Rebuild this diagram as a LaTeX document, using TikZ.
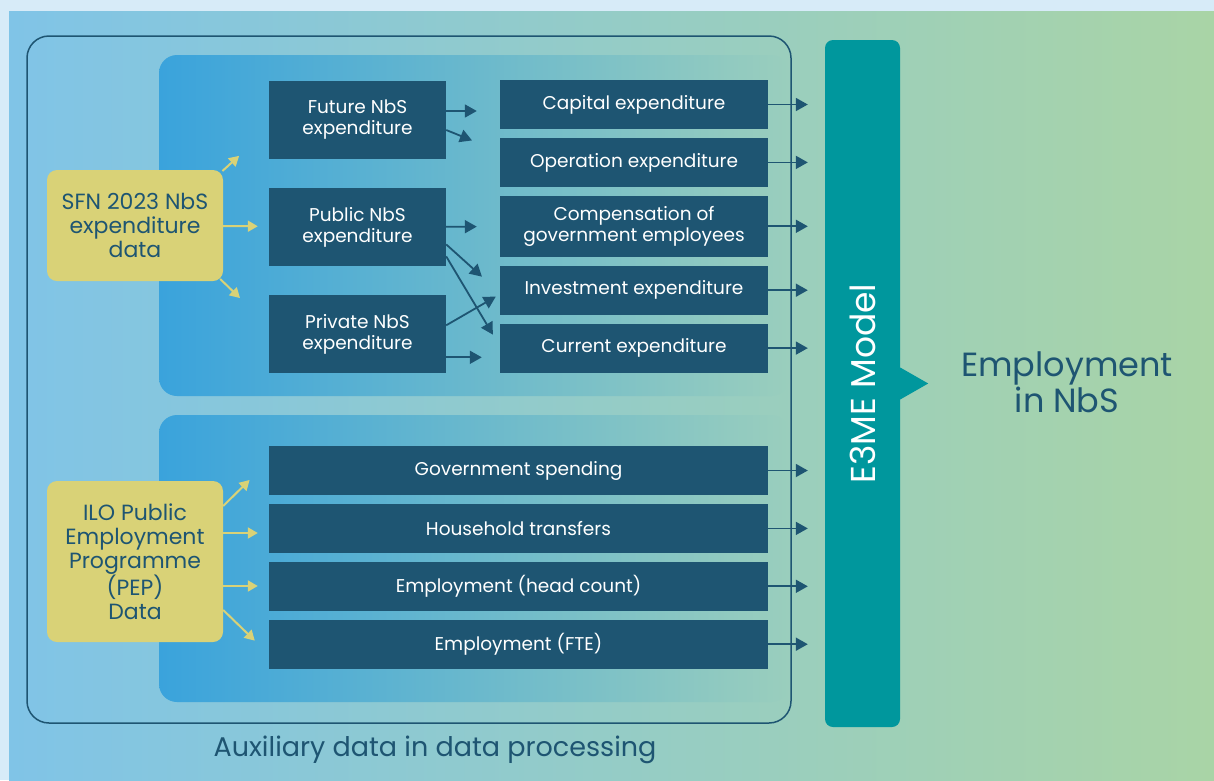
\documentclass[tikz,border=0pt]{standalone}
\usepackage{fontspec}
\setmainfont{Poppins}
\usepackage{tikz}
\usetikzlibrary{arrows.meta, positioning, shapes}

\definecolor{navy}{HTML}{1E5572}
\definecolor{sand}{HTML}{D9D277}
\definecolor{modelteal}{HTML}{00979D}
\definecolor{paper}{HTML}{D7EBF8}
\definecolor{bgleft}{HTML}{80C4E7}
\definecolor{bgright}{HTML}{A9D4A6}
\definecolor{panelleft}{HTML}{3AA3DC}
\definecolor{panelright}{HTML}{9ACEBD}

\begin{document}
\begin{tikzpicture}[x=1pt, y=-1pt, node distance=8.5pt,
    dbox/.style={rectangle, fill=navy, text=white, align=center, inner sep=0pt,
        font=\fontsize{18.5}{21}\selectfont},
    smallbox/.style={dbox, minimum width=177pt, minimum height=78pt},
    widebox/.style={dbox, minimum width=268pt, minimum height=49pt},
    longbox/.style={dbox, minimum width=499pt, minimum height=49pt},
    ybox/.style={rectangle, fill=sand, text=navy, rounded corners=10pt, align=center,
        inner sep=0pt, minimum width=176pt, font=\fontsize{22}{24}\selectfont},
    yarr/.style={draw=sand, line width=2pt, -{Triangle[length=10pt, width=11pt]}},
    narr/.style={draw=navy, line width=1.8pt, -{Triangle[length=12pt, width=13pt]}}]

    \useasboundingbox (0,0) rectangle (1214,780);
    \fill[paper] (0,0) rectangle (1214,780);
    \shade[left color=bgleft, right color=bgright] (9,11) rectangle (1214,780);

    \shade[rounded corners=18pt, left color=panelleft, right color=panelright] (159,55) rectangle (789,396);
    \shade[rounded corners=18pt, left color=panelleft, right color=panelright] (159,415) rectangle (789,702);
    \draw[navy, line width=1.5pt, rounded corners=22pt] (27,36) rectangle (791,723);

    \node (sfn) [ybox, minimum height=111pt] at (135,225.5) {SFN 2023 NbS\\expenditure\\data};
    \node (ilo) [ybox, minimum height=161pt] at (135,561.5) {ILO Public\\Employment\\Programme\\(PEP)\\Data};

    \node (fut) [smallbox] at (357.5,119.5) {Future NbS\\expenditure};
    \node (pub) [smallbox, below=29pt of fut] {Public NbS\\expenditure};
    \node (priv) [smallbox, below=29pt of pub] {Private NbS\\expenditure};

    \node (cap) [widebox] at (634,104.5) {Capital expenditure};
    \node (ope) [widebox, below=of cap] {Operation expenditure};
    \node (comp) [widebox, minimum height=61pt, below=of ope] {Compensation of\\government employees};
    \node (inv) [widebox, below=of comp] {Investment expenditure};
    \node (cur) [widebox, below=of inv] {Current expenditure};

    \node (gov) [longbox] at (518.5,470.5) {Government spending};
    \node (hh) [longbox, below=of gov] {Household transfers};
    \node (emphc) [longbox, below=of hh] {Employment (head count)};
    \node (empfte) [longbox, below=of emphc] {Employment (FTE)};

    \node (e3me) [rectangle, fill=modelteal, text=white, rounded corners=8pt, rotate=90,
        minimum width=687pt, minimum height=75pt, font=\fontsize{34.5}{38}\selectfont] at (862.5,383.5) {E3ME Model};
    \fill[modelteal] ([yshift=16pt]e3me.south) -- ([xshift=28pt]e3me.south) -- ([yshift=-16pt]e3me.south) -- cycle;
    \node (out) [text=navy, align=center, font=\fontsize{33.5}{36}\selectfont] at (1067,382) {Employment\\in NbS};
    \node (aux) [text=navy, font=\fontsize{27}{30}\selectfont] at (435,750) {Auxiliary data in data processing};

    \draw[yarr, shorten <=3pt, shorten >=40pt] ([shift={(-3pt,52.5pt)}]sfn.east) -- ([yshift=-9.5pt]fut.west);
    \draw[yarr, shorten >=11pt] (sfn) -- (pub);
    \draw[yarr, shorten >=40pt] ([shift={(-3pt,-53.5pt)}]sfn.east) -- ([yshift=8.5pt]priv.west);

    \draw[yarr, shorten >=27pt] ([yshift=55.5pt]ilo.east) -- ([yshift=9.5pt]gov.west);
    \draw[yarr, shorten >=11pt] ([yshift=28.5pt]ilo.east) -- ([yshift=28.5pt]ilo.east -| hh.west);
    \draw[yarr, shorten >=11pt] ([yshift=-24.5pt]ilo.east) -- ([yshift=-24.5pt]ilo.east -| emphc.west);
    \draw[yarr, shorten >=19.5pt] ([yshift=-48.5pt]ilo.east) -- ([yshift=-10pt]empfte.west);

    \draw[narr, shorten >=23pt] ([yshift=8.5pt]fut.east) -- ([yshift=8.5pt]fut.east -| cap.west);
    \draw[narr, shorten >=30pt] ([yshift=-10.5pt]fut.east) -- ([yshift=10.7pt]ope.west);
    \draw[narr, shorten >=23pt] (pub) -- (comp);
    \draw[narr, shorten >=24pt] ([yshift=-17.5pt]pub.east) -- ([yshift=-2.5pt]inv.west);
    \draw[narr, shorten >=13.5pt] ([yshift=-29.5pt]pub.east) -- ([yshift=1.9pt]cur.west);
    \draw[narr, shorten >=4.7pt] ([yshift=9pt]priv.east) -- ([yshift=-4.1pt]inv.west);
    \draw[narr, shorten >=18pt] ([yshift=-23pt]priv.east) -- ([yshift=-23pt]priv.east -| cur.west);

    \foreach \b in {cap, ope, comp, inv, cur, gov, hh, emphc, empfte}
        \draw[narr, shorten >=17pt] (\b.east) -- (\b.east -| e3me.north);

\end{tikzpicture}
\end{document}
